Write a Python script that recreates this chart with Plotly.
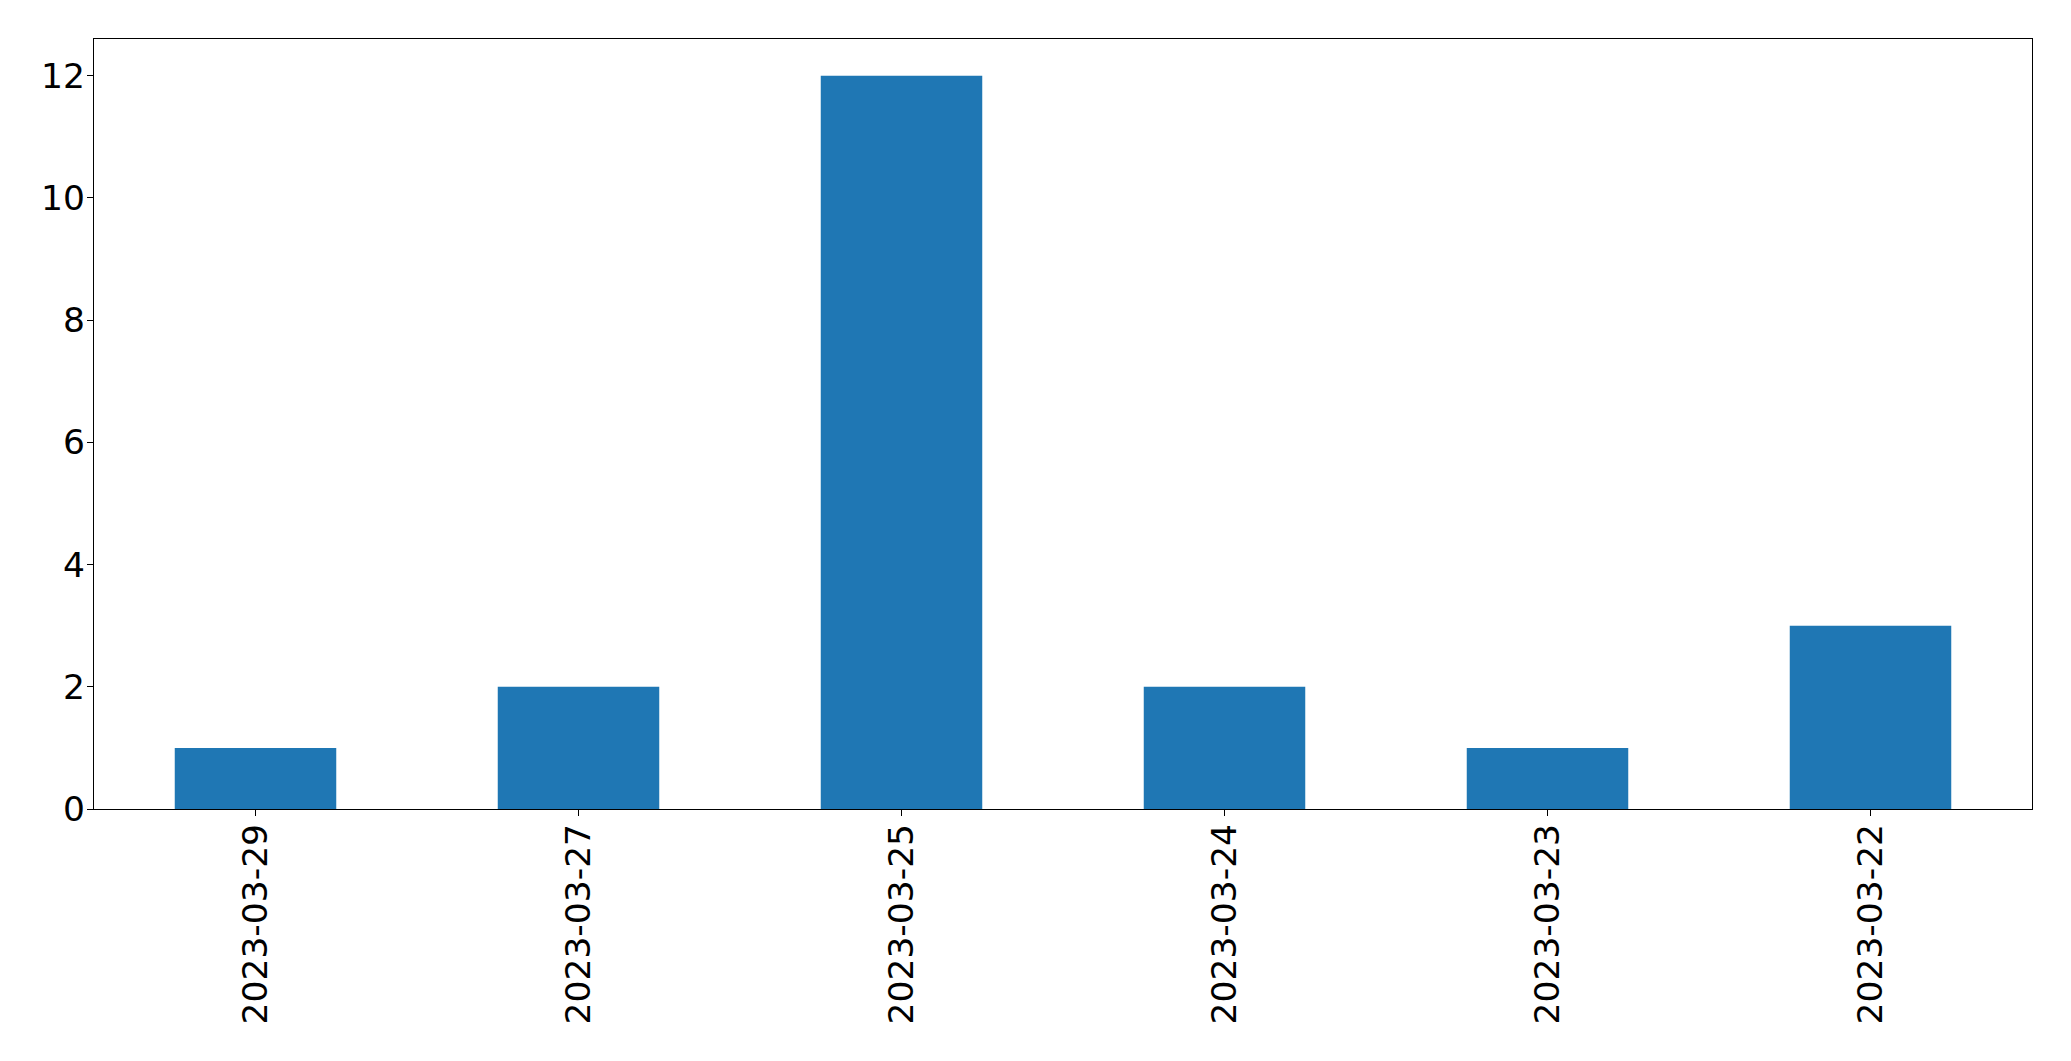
import plotly.graph_objs as go

# Counts per date
dates = ['2023-03-29', '2023-03-27', '2023-03-25', '2023-03-24', '2023-03-23', '2023-03-22']
counts = [1, 2, 12, 2, 1, 3]
y_ticks = [0, 2, 4, 6, 8, 10, 12]

data = [go.Bar(x=dates, y=counts, width=0.5, marker=dict(color='#1f77b4', line=dict(width=0)))]

axis_style = dict(showline=True, linecolor='black', linewidth=1.3, mirror=True,
                  ticks='outside', ticklen=6, tickwidth=1.3, tickcolor='black',
                  showgrid=False, zeroline=False)

# page body adds an 8px margin, so the figure is shifted to compensate
layout = go.Layout(
    width=2055, height=1045,
    margin=dict(l=86, r=31, t=31, b=244),
    paper_bgcolor='white', plot_bgcolor='white',
    font=dict(family='DejaVu Sans', size=34.5, color='black'),
    showlegend=False,
    xaxis=dict(type='category', range=[-0.5, 5.5], tickangle=-90,
               ticklabelstandoff=-6, **axis_style),
    yaxis=dict(range=[0, 12.6], tickvals=y_ticks, ticklabelstandoff=-5, **axis_style),
)

fig = go.Figure(data=data, layout=layout)
fig.write_html("out.html")
